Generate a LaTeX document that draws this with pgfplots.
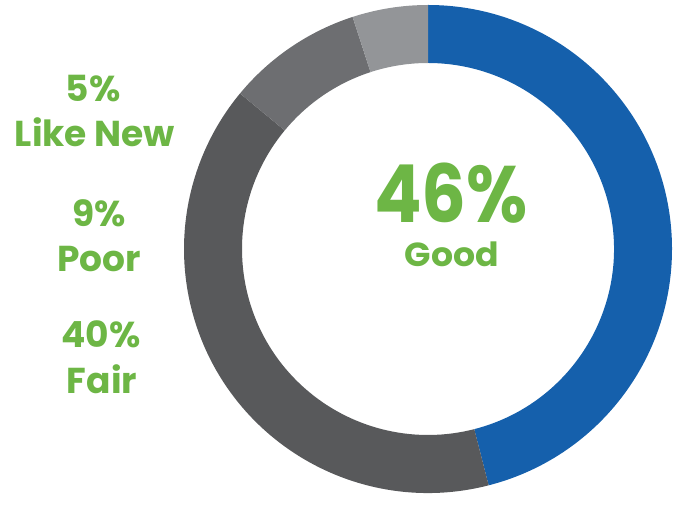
\documentclass[border=0pt]{standalone}
\usepackage{pgfplots}
\pgfplotsset{compat=1.18}
\usepackage{pgfplotstable}
\usepackage{fontspec}
\setmainfont{Poppins}
\definecolor{cGood}{HTML}{1560AC}
\definecolor{cFair}{HTML}{58595B}
\definecolor{cPoor}{HTML}{6D6E71}
\definecolor{cNew}{HTML}{939598}
\definecolor{cGreen}{HTML}{6DB645}
\pgfplotstableread{
name value color
Good 46 cGood
Fair 40 cFair
Poor 9 cPoor
LikeNew 5 cNew
}\donut
\begin{document}
\begin{tikzpicture}
\begin{axis}[hide axis, scale only axis, width=510.75pt, height=371.25pt,
  xmin=0, xmax=681, ymin=0, ymax=495, clip=false]
\path (axis cs:0,0) rectangle (axis cs:681,495);
\pgfplotstablegetrowsof{\donut}
\pgfmathtruncatemacro\N{\pgfplotsretval-1}
\def\cum{0}
\pgfplotsforeachungrouped \i in {0,...,\N}{%
  \pgfplotstablegetelem{\i}{value}\of\donut \let\v\pgfplotsretval
  \pgfplotstablegetelem{\i}{color}\of\donut \let\c\pgfplotsretval
  \pgfmathsetmacro\a{90-3.6*\cum}%
  \pgfmathsetmacro\b{90-3.6*(\cum+\v)}%
  \edef\temp{\noexpand\fill[\c, shift={(axis cs:428,246)}] (\a:183pt) arc[start angle=\a, end angle=\b, radius=183pt] -- (\b:139.5pt) arc[start angle=\b, end angle=\a, radius=139.5pt] -- cycle;}%
  \temp
  \pgfmathsetmacro\cum{\cum+\v}%
}
\begin{scope}[every node/.style={text=cGreen, font=\bfseries, anchor=base, inner sep=0pt}]
\node[font=\bfseries\fontsize{60}{60}\selectfont, xscale=0.88] at (axis cs:451,272) {46\%};
\node[font=\bfseries\fontsize{25}{25}\selectfont, xscale=1.04] at (axis cs:452,228) {Good};
\node[font=\bfseries\fontsize{27}{27}\selectfont] at (axis cs:93,393) {5\%};
\node[font=\bfseries\fontsize{27}{27}\selectfont] at (axis cs:95,348) {Like New};
\node[font=\bfseries\fontsize{27}{27}\selectfont] at (axis cs:99,268) {9\%};
\node[font=\bfseries\fontsize{27}{27}\selectfont] at (axis cs:99,223) {Poor};
\node[font=\bfseries\fontsize{27}{27}\selectfont] at (axis cs:101,147) {40\%};
\node[font=\bfseries\fontsize{27}{27}\selectfont] at (axis cs:102,102) {Fair};
\end{scope}
\end{axis}
\end{tikzpicture}
\end{document}
